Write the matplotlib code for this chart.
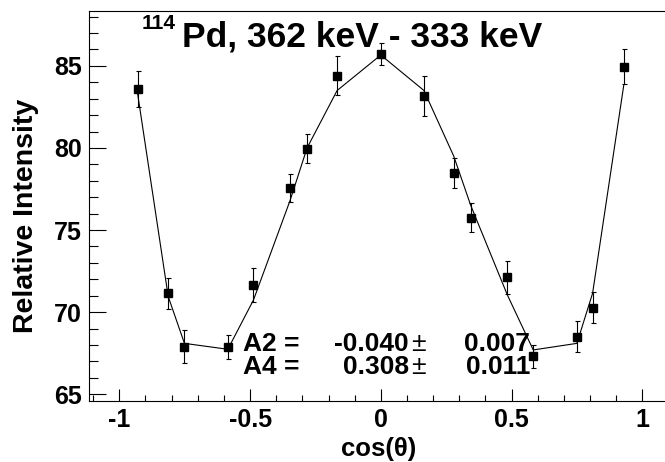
import matplotlib
matplotlib.use('Agg')
import matplotlib.pyplot as plt
from matplotlib.ticker import MultipleLocator

plt.rcParams['font.family'] = ['Liberation Sans', 'DejaVu Sans']

# 数据 (cos(theta), 相对强度, 误差, 拟合曲线)
cos_theta = [-0.930, -0.813, -0.751, -0.585, -0.487, -0.347, -0.282, -0.167, 0.0,
             0.165, 0.279, 0.344, 0.484, 0.583, 0.750, 0.810, 0.929]
intensity = [83.58, 71.15, 67.90, 67.86, 71.64, 77.55, 79.96, 84.40, 85.72,
             83.15, 78.46, 75.76, 72.12, 67.33, 68.51, 70.26, 84.95]
errors = [1.08, 0.93, 1.00, 0.73, 1.03, 0.84, 0.89, 1.20, 0.66,
          1.23, 0.90, 0.87, 1.01, 0.70, 0.95, 0.95, 1.05]
fit_vals = [83.3, 70.95, 68.1, 67.74, 70.74, 76.8, 80.0, 83.5, 85.66,
            83.5, 79.5, 76.5, 71.05, 67.7, 68.1, 71.15, 83.8]
x_ticks = [-1, -0.5, 0, 0.5, 1]
x_ticklabels = ['-1', '-0.5', '0', '0.5', '1']
y_ticks = [65, 70, 75, 80, 85]
a2 = ('-0.040', '0.007')
a4 = ('0.308', '0.011')

W, H = 665, 462
fig = plt.figure(figsize=(W / 100, H / 100), dpi=100)

# 坐标轴位置 (像素)
left, right, top, bottom = 89, 672.6, 10.7, 401
ax = fig.add_axes([left / W, 1 - bottom / H, (right - left) / W, (bottom - top) / H])

ax.plot(cos_theta, fit_vals, color='black', lw=0.8, zorder=2)
ax.errorbar(cos_theta, intensity, yerr=errors, fmt='s', color='black',
            ms=5.5, elinewidth=0.8, capsize=1.8, capthick=0.8, zorder=3)

ax.set_xlim(-1.116, 1.116)
ax.set_ylim(64.59, 88.36)
ax.set_xticks(x_ticks)
ax.set_xticklabels(x_ticklabels)
ax.set_yticks(y_ticks)
ax.xaxis.set_minor_locator(MultipleLocator(0.1))
ax.yaxis.set_minor_locator(MultipleLocator(1))
ax.tick_params(axis='x', which='major', direction='in', length=8.5, width=0.8, pad=5)
ax.tick_params(axis='x', which='minor', direction='in', length=4.3, width=0.8)
ax.tick_params(axis='y', which='major', direction='in', length=12, width=0.8, pad=5)
ax.tick_params(axis='y', which='minor', direction='in', length=6.2, width=0.8)
for lab in ax.get_xticklabels() + ax.get_yticklabels():
    lab.set_fontsize(18)
    lab.set_fontweight('bold')
for s in ax.spines.values():
    s.set_linewidth(0.8)


def px(x, y):
    return x / W, 1 - y / H


# 标题
fig.text(*px(142, 29), '114', fontsize=15, fontweight='bold', va='baseline', ha='left')
fig.text(*px(182, 46), 'Pd, 362 keV - 333 keV', fontsize=25.5, fontweight='bold',
         va='baseline', ha='left')

# 轴标题
fig.text(*px(379, 456), 'cos(θ)', fontsize=18.5, fontweight='bold', va='baseline', ha='center')
fig.text(*px(33, 333), 'Relative Intensity', fontsize=20.5, fontweight='bold', rotation=90,
         rotation_mode='anchor', va='baseline', ha='left')

# 拟合参数
for base, name, (val, err) in [(351, 'A2 =', a2), (374.5, 'A4 =', a4)]:
    fig.text(*px(243, base), name, fontsize=19, fontweight='bold', va='baseline', ha='left')
    fig.text(*px(409, base), val, fontsize=19, fontweight='bold', va='baseline', ha='right')
    fig.text(*px(411, base), '±', fontsize=19, va='baseline', ha='left')
    fig.text(*px(530, base), err, fontsize=19, fontweight='bold', va='baseline', ha='right')

plt.savefig('out.png', dpi=100)
